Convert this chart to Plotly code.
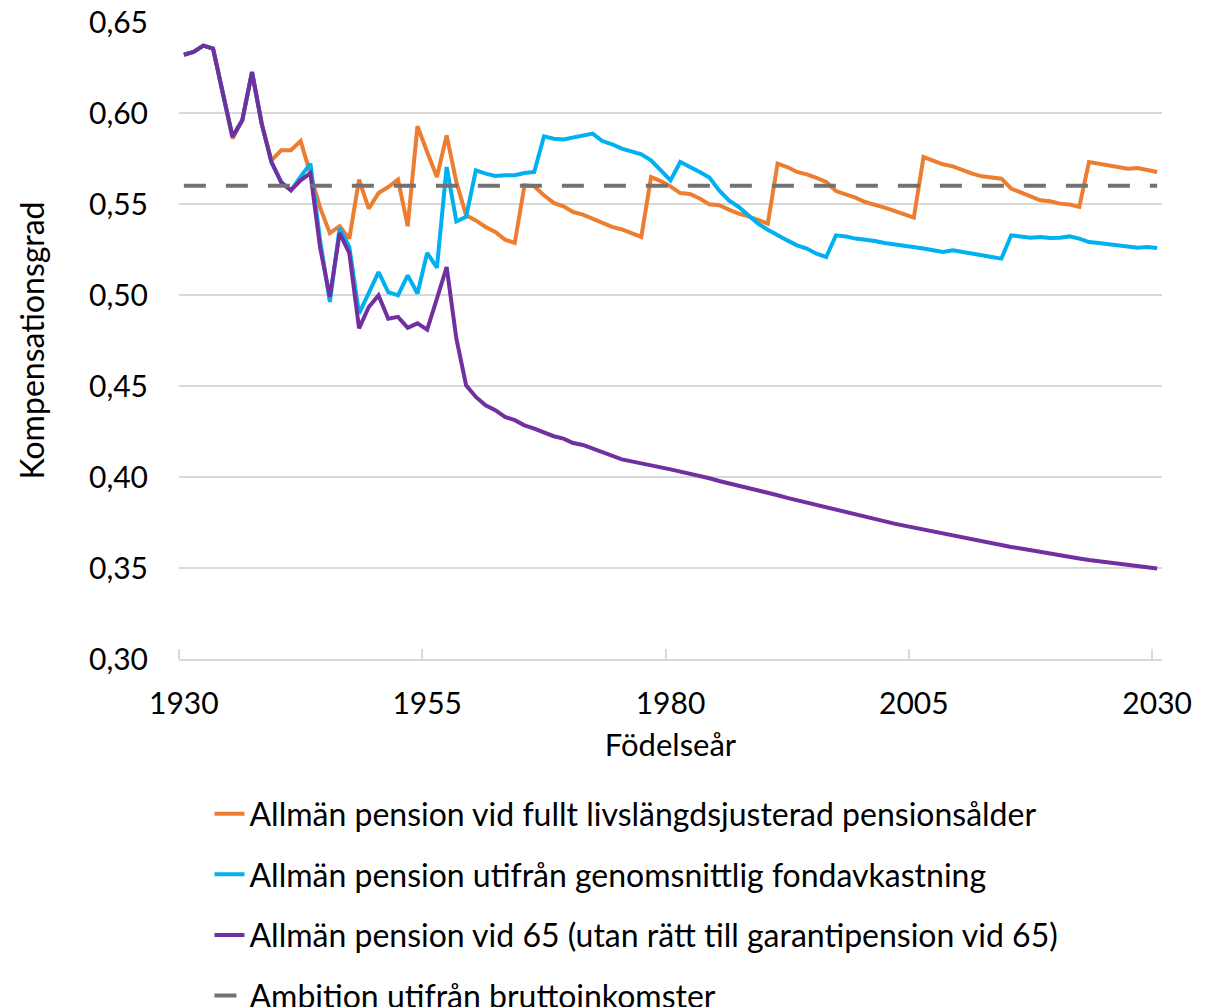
import plotly.graph_objects as go

years = list(range(1930, 2031))

vid65 = [
    0.632, 0.6335, 0.637, 0.6354, 0.611, 0.587, 0.596, 0.6225, 0.594, 0.573,
    0.562, 0.5575, 0.563, 0.567, 0.526, 0.499, 0.534, 0.523, 0.4817, 0.4934,
    0.4998, 0.487, 0.488, 0.482, 0.4844, 0.481, 0.498, 0.5154, 0.476, 0.4504,
    0.444, 0.4394, 0.4367, 0.433, 0.4312, 0.4284, 0.4266, 0.4242, 0.4224, 0.4211,
    0.4187, 0.4176, 0.4156, 0.4134, 0.4114, 0.4097, 0.4086, 0.4074, 0.406, 0.4053,
    0.4042, 0.4031, 0.4019, 0.4005, 0.3993, 0.3978, 0.3965, 0.3953, 0.3942, 0.3930,
    0.3918, 0.3900, 0.3885, 0.3872, 0.3857, 0.3845, 0.3832, 0.3817, 0.3804, 0.3791,
    0.3780, 0.3767, 0.3756, 0.3744, 0.3733, 0.3722, 0.3711, 0.3700, 0.3689, 0.3678,
    0.3667, 0.3656, 0.3645, 0.3636, 0.3626, 0.3615, 0.3607, 0.3597, 0.3588, 0.3579,
    0.3570, 0.3561, 0.3552, 0.3544, 0.3537, 0.3530, 0.3522, 0.3515, 0.3510, 0.3505,
    0.3497,
]

fullt = [
    0.632, 0.6335, 0.637, 0.6354, 0.611, 0.586, 0.596, 0.6225, 0.594, 0.574,
    0.5795, 0.5795, 0.5846, 0.567, 0.548, 0.534, 0.5378, 0.531, 0.5634, 0.5475,
    0.556, 0.5593, 0.5634, 0.5378, 0.5927, 0.5786, 0.5648, 0.5877, 0.562, 0.5438,
    0.541, 0.5374, 0.5346, 0.5304, 0.5286, 0.5603, 0.5597, 0.5548, 0.5506, 0.5487,
    0.5456, 0.5442, 0.542, 0.5401, 0.5374, 0.536, 0.5341, 0.5319, 0.5648, 0.5626,
    0.5597, 0.556, 0.5555, 0.553, 0.5498, 0.5493, 0.5469, 0.5447, 0.5432, 0.541,
    0.5392, 0.5722, 0.5703, 0.5676, 0.5663, 0.5643, 0.5621, 0.5571, 0.5553, 0.5535,
    0.5511, 0.5498, 0.548, 0.5462, 0.5443, 0.5425, 0.5758, 0.5736, 0.5718, 0.5707,
    0.5685, 0.5667, 0.5652, 0.5648, 0.5639, 0.5585, 0.5563, 0.5538, 0.552, 0.5515,
    0.5502, 0.5497, 0.5484, 0.5731, 0.5722, 0.5713, 0.5703, 0.5694, 0.5698, 0.5689,
    0.5676,
]

fond = [
    0.632, 0.6335, 0.637, 0.6354, 0.611, 0.587, 0.596, 0.6225, 0.594, 0.573,
    0.562, 0.5575, 0.565, 0.5722, 0.530, 0.4962, 0.5365, 0.5264, 0.4898, 0.5008,
    0.5126, 0.5016, 0.4998, 0.5108, 0.5008, 0.5231, 0.515, 0.5703, 0.5405, 0.5429,
    0.5685, 0.5667, 0.5654, 0.5658, 0.5658, 0.567, 0.5676, 0.5872, 0.5859, 0.5854,
    0.5865, 0.5872, 0.5887, 0.5846, 0.5828, 0.5804, 0.5786, 0.5773, 0.574, 0.5685,
    0.563, 0.5731, 0.5705, 0.5676, 0.5645, 0.5575, 0.552, 0.5484, 0.5438, 0.5392,
    0.5359, 0.5328, 0.530, 0.5273, 0.5255, 0.5227, 0.5209, 0.5328, 0.5322, 0.531,
    0.5304, 0.5297, 0.5286, 0.5279, 0.5268, 0.5266, 0.5255, 0.5246, 0.5236, 0.5246,
    0.5235, 0.5228, 0.5218, 0.5209, 0.52, 0.5328, 0.5322, 0.5315, 0.5319, 0.5313,
    0.5315, 0.5322, 0.531, 0.5291, 0.5286, 0.5279, 0.5271, 0.5264, 0.526, 0.5264,
    0.5258,
]

ambition_years = [1930, 2030]
ambition = [0.56, 0.56]

xtick_vals = [1930, 1955, 1980, 2005, 2030]
xtick_text = ["1930", "1955", "1980", "2005", "2030"]
ytick_vals = [0.30, 0.35, 0.40, 0.45, 0.50, 0.55, 0.60, 0.65]
ytick_text = ["0,30", "0,35", "0,40", "0,45", "0,50", "0,55", "0,60", "0,65"]

names = [
    "Allmän pension vid fullt livslängdsjusterad pensionsålder",
    "Allmän pension utifrån genomsnittlig fondavkastning",
    "Allmän pension vid 65 (utan rätt till garantipension vid 65)",
    "Ambition utifrån bruttoinkomster",
]

FONT = "Lato, 'Open Sans', sans-serif"

fig = go.Figure()
fig.add_trace(go.Scatter(x=years, y=fullt, mode="lines", name=names[0], legendgroup="a",
                         line=dict(color="#ED7D31", width=4)))
fig.add_trace(go.Scatter(x=years, y=fond, mode="lines", name=names[1], legendgroup="b",
                         line=dict(color="#00B0F0", width=4)))
fig.add_trace(go.Scatter(x=years, y=vid65, mode="lines", name=names[2], legendgroup="c",
                         line=dict(color="#7030A0", width=4)))
fig.add_trace(go.Scatter(x=ambition_years, y=ambition, mode="lines", name=names[3], legendgroup="d",
                         line=dict(color="#767171", width=4, dash="22px,20px")))

fig.update_layout(
    width=1214, height=1007,
    margin=dict(l=179, r=52, t=22, b=348, autoexpand=False),
    paper_bgcolor="white", plot_bgcolor="white",
    font=dict(family=FONT, size=30, color="#000000"),
    showlegend=True,
    legend=dict(x=0.031, y=-0.2, xanchor="left", yanchor="top",
                orientation="v", tracegroupgap=16, bgcolor="rgba(0,0,0,0)",
                font=dict(family=FONT, size=32, color="#000000")),
    xaxis=dict(
        range=[1929.5, 2030.5], tickmode="array", tickvals=xtick_vals, ticktext=xtick_text,
        ticks="", showgrid=False, zeroline=False,
        showline=True, linecolor="#D9D9D9", linewidth=1.5,
        ticklabelstandoff=17,
        minor=dict(tickvals=[1929.5, 1954.5, 1979.5, 2004.5, 2029.5], ticks="inside",
                   ticklen=10, tickcolor="#D9D9D9", tickwidth=1.5, showgrid=False),
        title=dict(text="Födelseår", font=dict(size=31), standoff=16),
        automargin=False,
    ),
    yaxis=dict(
        range=[0.30, 0.65], tickmode="array", tickvals=ytick_vals, ticktext=ytick_text,
        ticks="", showgrid=True, gridcolor="#D9D9D9", gridwidth=1.5, zeroline=False,
        showline=False, ticklabelstandoff=30,
        title=dict(text="Kompensationsgrad", font=dict(size=32), standoff=34),
        automargin=False,
    ),
)

fig.write_html("out.html", config={"displayModeBar": False},
               post_script="document.body.style.margin='0';")
